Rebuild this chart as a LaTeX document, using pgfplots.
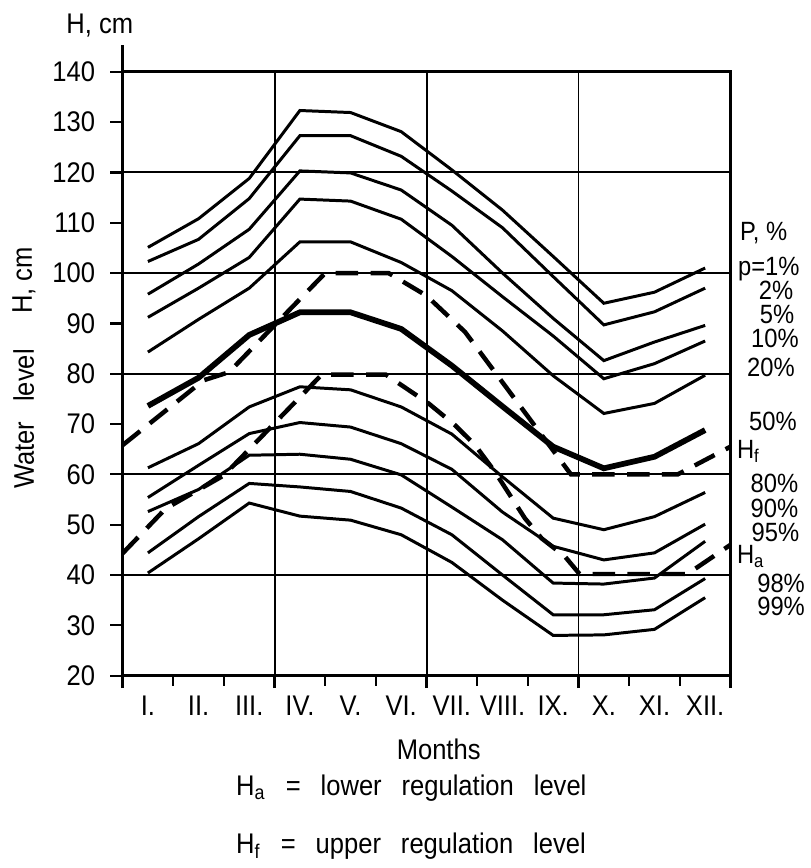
\documentclass[border=0pt]{standalone}
\usepackage{fontspec}
\setmainfont{Liberation Sans}[FakeStretch=0.9]
\usepackage{pgfplots}
\usepackage{pgfplotstable}
\pgfplotsset{compat=1.18}
\newcommand\f{\fontsize{11.4}{13}\selectfont}
\newcommand\fr{\fontsize{10.6}{12}\selectfont}
\newcommand\gap{\hspace{8pt}}

\pgfplotstableread{
x    p1    p2    p5    p10   p20   p50   p80   p90   p95   p98   p99
0.5  105.1 102.3 95.8  91.2  84.3  73.6  61.3  55.4  52.6  44.4  40.4
1.5  110.8 106.7 101.8 97.0  90.8  79.2  66.1  61.8  57.0  51.6  47.2
2.5  118.8 114.8 108.7 103.1 97.0  87.7  73.4  68.1  63.8  58.2  54.3
3.5  132.3 127.3 120.3 114.7 106.2 92.2  77.4  70.3  64.0  57.5  51.7
4.5  131.9 127.3 119.9 114.3 106.2 92.2  76.8  69.4  63.0  56.6  50.9
5.5  128.1 123.2 116.5 110.7 102.1 88.9  73.4  66.1  59.9  53.3  48.0
6.5  120.5 116.3 109.5 103.3 96.5  81.6  68.0  61.0  53.5  48.0  42.5
7.5  112.5 109.0 100.0 95.3  88.5  73.5  59.5  52.5  47.0  40.0  35.0
8.5  103.3 99.3  91.0  87.5  79.6  65.5  51.3  45.7  38.4  32.1  28.0
9.5  94.0  89.7  82.6  79.0  72.1  61.2  49.0  43.0  38.2  32.1  28.1
10.5 96.2  92.3  86.3  82.0  74.1  63.5  51.6  44.4  39.4  33.1  29.2
11.5 101.0 97.0  89.6  86.5  79.7  68.8  56.4  50.1  46.7  39.3  35.5
}\levels

\pgfplotstableread{
x     y
0     65.8
1.6   78.7
2.1   80.3
4.0   100.0
5.25  100.0
6.0   95.5
6.76  88.3
8.85  60.0
10.96 60.0
12    65.5
}\hf

\pgfplotstableread{
x     y
0     44.3
0.85  53.2
2.0   59.8
3.93  79.8
5.2   79.8
6.04  74.1
6.56  69.8
6.96  65.8
7.35  60.5
7.94  51.3
8.27  47.3
8.73  43.7
9.02  40.2
11.15 40.2
12    46.0
}\ha

\begin{document}
\begin{tikzpicture}[lab/.style={anchor=base west, font=\fr, inner sep=0pt}]
\begin{axis}[
  scale only axis, width=244pt, height=242.4pt,
  xmin=0, xmax=12, ymin=20, ymax=140,
  clip=false,
  axis line style={line width=1.1pt},
  tick align=outside, xtick pos=bottom, ytick pos=left,
  xtick={0,3,6,9,12}, xticklabels={},
  minor xtick={1,2,4,5,7,8,10,11},
  xmajorgrids,
  major grid style={line width=0.8pt, black},
  extra x ticks={0.5,1.5,2.5,3.5,4.5,5.5,6.5,7.5,8.5,9.5,10.5,11.5},
  extra x tick labels={I.,II.,III.,IV.,V.,VI.,VII.,VIII.,IX.,X.,XI.,XII.},
  extra x tick style={major tick length=0pt, grid=none,
     xticklabel style={yshift=-4.5pt}},
  ytick={20,30,...,140},
  extra y ticks={40,60,80,100,120},
  extra y tick labels={},
  extra y tick style={grid=major},
  major tick length=5pt, minor tick length=4pt,
  every tick/.style={black, line width=0.9pt},
  tick label style={font=\f},
  yticklabel style={xshift=-2.5pt},
  /pgf/number format/assume math mode=true,
]
\addplot[black, line width=1.2pt] table[x=x,y=p1] {\levels};
\addplot[black, line width=1.2pt] table[x=x,y=p2] {\levels};
\addplot[black, line width=1.2pt] table[x=x,y=p5] {\levels};
\addplot[black, line width=1.2pt] table[x=x,y=p10] {\levels};
\addplot[black, line width=1.2pt] table[x=x,y=p20] {\levels};
\addplot[black, line width=2.3pt] table[x=x,y=p50] {\levels};
\addplot[black, line width=1.2pt] table[x=x,y=p80] {\levels};
\addplot[black, line width=1.2pt] table[x=x,y=p90] {\levels};
\addplot[black, line width=1.2pt] table[x=x,y=p95] {\levels};
\addplot[black, line width=1.2pt] table[x=x,y=p98] {\levels};
\addplot[black, line width=1.2pt] table[x=x,y=p99] {\levels};
\addplot[black, line width=1.8pt, dash pattern=on 9pt off 5pt] table[x=x,y=y] {\hf};
\addplot[black, line width=1.8pt, dash pattern=on 9pt off 5pt] table[x=x,y=y] {\ha};

\draw[line width=1.1pt] (axis cs:0,140) -- (axis cs:0,145.3);
\path (axis cs:-2.42,154.26) rectangle (axis cs:13.575,-17.62);

\node[anchor=base, font=\f] at (axis cs:-0.45,147.7) {H, cm};
\node[rotate=90, font=\f] at (axis cs:-1.95,71.0) {Water\gap level};
\node[rotate=90, font=\f] at (axis cs:-1.95,98.5) {H, cm};

\node[lab] at (axis cs:12.18,106.5) {P, \%};
\node[lab] at (axis cs:12.14,99.6) {p=1\%};
\node[lab] at (axis cs:12.55,94.8) {2\%};
\node[lab] at (axis cs:12.57,90.0) {5\%};
\node[lab] at (axis cs:12.40,85.2) {10\%};
\node[lab] at (axis cs:12.32,79.4) {20\%};
\node[lab] at (axis cs:12.36,68.7) {50\%};
\node[lab] at (axis cs:12.12,63.2) {H\textsubscript{f}};
\node[lab] at (axis cs:12.39,56.4) {80\%};
\node[lab] at (axis cs:12.39,51.4) {90\%};
\node[lab] at (axis cs:12.41,46.6) {95\%};
\node[lab] at (axis cs:12.12,42.3) {H\textsubscript{a}};
\node[lab] at (axis cs:12.52,36.6) {98\%};
\node[lab] at (axis cs:12.52,31.9) {99\%};

\node[anchor=base, font=\f] at (axis cs:6.24,3.37) {Months};
\node[anchor=base west, font=\f] at (axis cs:2.07,-3.76) {H\textsubscript{a}\gap=\gap lower\gap regulation\gap level};
\node[anchor=base west, font=\f] at (axis cs:2.07,-15.4) {H\textsubscript{f}\gap=\gap upper\gap regulation\gap level};
\end{axis}
\end{tikzpicture}
\end{document}
